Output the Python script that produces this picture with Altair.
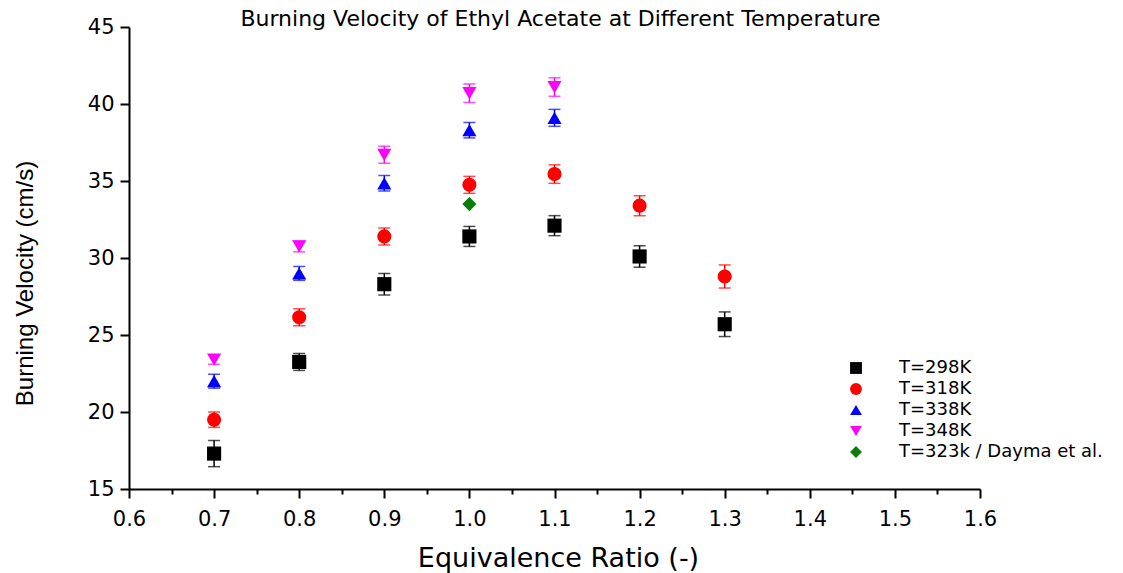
import altair as alt
import pandas as pd

# ---- data ----
phi_all = [0.7, 0.8, 0.9, 1.0, 1.1, 1.2, 1.3]
phi_hot = [0.7, 0.8, 0.9, 1.0, 1.1]

v298 = [17.3, 23.25, 28.3, 31.4, 32.1, 30.1, 25.7]
e298 = [0.85, 0.55, 0.7, 0.65, 0.65, 0.7, 0.8]
v318 = [19.5, 26.15, 31.4, 34.75, 35.45, 33.4, 28.8]
e318 = [0.5, 0.55, 0.55, 0.55, 0.6, 0.65, 0.75]
v338 = [22.0, 29.0, 34.85, 38.3, 39.1]
e338 = [0.45, 0.45, 0.5, 0.5, 0.55]
v348 = [23.4, 30.75, 36.7, 40.7, 41.1]
e348 = [0.3, 0.35, 0.55, 0.6, 0.6]
phi_dayma = [1.0]
v_dayma = [33.5]
e_dayma = [0.0]

series_names = ["T=298K", "T=318K", "T=338K", "T=348K", "T=323k / Dayma et al."]
series_colors = ["#000000", "#ff0000", "#0000ff", "#ff00ff", "#0a7d0a"]
series_shapes = ["square", "circle", "triangle-up", "triangle-down", "diamond"]

x_ticks = [0.6, 0.65, 0.7, 0.75, 0.8, 0.85, 0.9, 0.95, 1.0, 1.05, 1.1,
           1.15, 1.2, 1.25, 1.3, 1.35, 1.4, 1.45, 1.5, 1.55, 1.6]
y_ticks = [15, 17.5, 20, 22.5, 25, 27.5, 30, 32.5, 35, 37.5, 40, 42.5, 45]

groups = [
    (phi_all, v298, e298),
    (phi_all, v318, e318),
    (phi_hot, v338, e338),
    (phi_hot, v348, e348),
    (phi_dayma, v_dayma, e_dayma),
]

rows = []
for name, col, (xs, vs, es) in zip(series_names, series_colors, groups):
    for x, v, e in zip(xs, vs, es):
        rows.append({"phi": x, "v": v, "lo": v - e, "hi": v + e,
                     "series": name, "hexc": col, "err": e})
df = pd.DataFrame(rows)
df_err = df[df["err"] > 0]

FONT = "DejaVu Sans"

xscale = alt.Scale(domain=[0.6, 1.6], nice=False, zero=False)
yscale = alt.Scale(domain=[15, 45], nice=False, zero=False)

x_axis = alt.Axis(
    values=x_ticks,
    labelExpr="abs(datum.value*10 - round(datum.value*10)) < 0.001 ? format(datum.value, '.1f') : ''",
    tickSize={"condition": {"test": "abs(datum.value*10 - round(datum.value*10)) < 0.001", "value": 9}, "value": 5},
    labelOverlap=False,
    labelFlush=False,
    title="Equivalence Ratio (-)",
    titleFont=FONT, titleFontSize=27, titleFontWeight="normal",
    titleBaseline="middle", titleY=69, titleX=429,
    labelFont=FONT, labelFontSize=21, labelPadding=10,
    grid=False,
)
y_axis = alt.Axis(
    values=y_ticks,
    labelExpr="datum.value % 5 == 0 ? datum.value : ''",
    tickSize={"condition": {"test": "datum.value % 5 == 0", "value": 9}, "value": 5},
    labelOverlap=False,
    labelFlush=False,
    title="Burning Velocity (cm/s)",
    titleFont="Liberation Sans", titleFontSize=24, titleFontWeight="normal",
    titleBaseline="middle", titleX=-104, titleY=256, titleAngle=270,
    labelFont=FONT, labelFontSize=21, labelPadding=6,
    grid=False,
)

base = alt.Chart(df)
err_base = alt.Chart(df_err)

rules = err_base.mark_rule(strokeWidth=1.5).encode(
    x=alt.X("phi:Q", scale=xscale, axis=x_axis),
    y=alt.Y("lo:Q", scale=yscale, axis=y_axis),
    y2="hi:Q",
    color=alt.Color("hexc:N", scale=None),
)
caps_lo = err_base.mark_tick(orient="horizontal", size=12, thickness=1.5).encode(
    x=alt.X("phi:Q", scale=xscale),
    y=alt.Y("lo:Q", scale=yscale),
    color=alt.Color("hexc:N", scale=None),
)
caps_hi = err_base.mark_tick(orient="horizontal", size=12, thickness=1.5).encode(
    x=alt.X("phi:Q", scale=xscale),
    y=alt.Y("hi:Q", scale=yscale),
    color=alt.Color("hexc:N", scale=None),
)

legend = alt.Legend(
    title=None, orient="none", legendX=718, legendY=332,
    labelFont=FONT, labelFontSize=18, symbolSize=140, rowPadding=3,
    labelOffset=34, symbolStrokeWidth=0, symbolOpacity=1, padding=0,
    labelLimit=400,
)

points = base.mark_point(filled=True, opacity=1, strokeWidth=0, size=200).encode(
    x=alt.X("phi:Q", scale=xscale),
    y=alt.Y("v:Q", scale=yscale),
    color=alt.Color("series:N", scale=alt.Scale(domain=series_names, range=series_colors), legend=legend),
    shape=alt.Shape("series:N", scale=alt.Scale(domain=series_names, range=series_shapes), legend=legend),
)

chart = alt.layer(rules, caps_lo, caps_hi, points).properties(
    width=851, height=462,
    autosize=alt.AutoSizeParams(type="none"),
    padding={"left": 129, "top": 27, "right": 143, "bottom": 84},
    title=alt.TitleParams(
        "Burning Velocity of Ethyl Acetate at Different Temperature",
        font=FONT, fontSize=22, fontWeight="normal", anchor="middle",
        baseline="alphabetic", offset=1, dx=6, dy=33, color="black",
    ),
).configure_axis(
    domainColor="black", domainWidth=2, tickColor="black", tickWidth=2,
    labelColor="black", titleColor="black",
).configure_view(stroke=None).configure_legend(labelColor="black", symbolOpacity=1)

chart.save("out.html", embed_options={"renderer": "svg", "actions": False})
